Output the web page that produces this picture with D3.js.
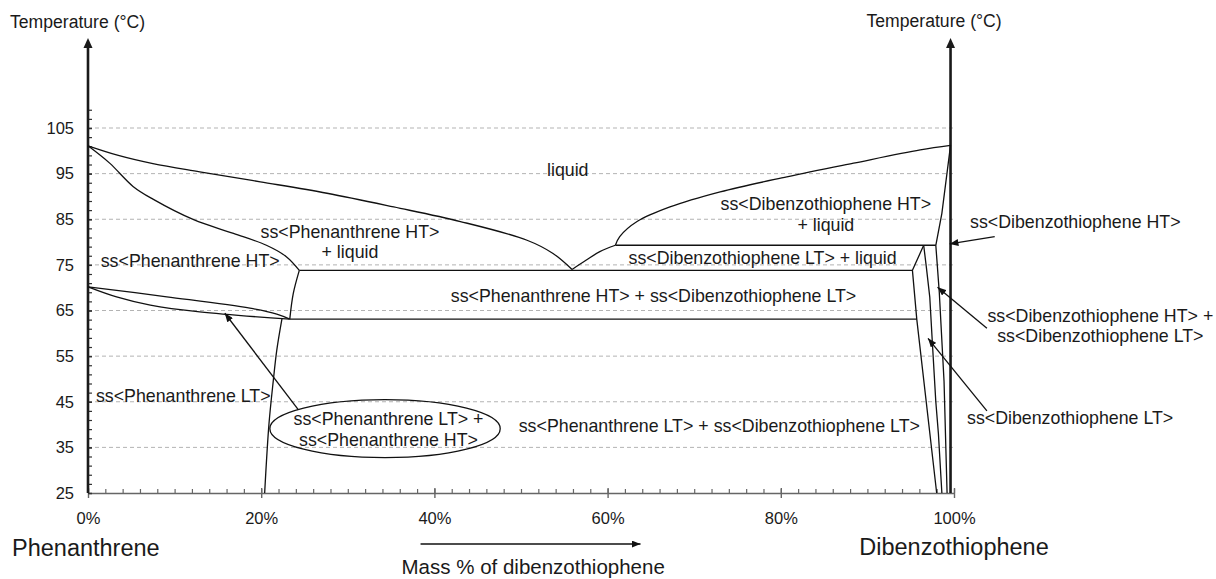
<!DOCTYPE html>
<html><head><meta charset="utf-8">
<script src="https://cdn.jsdelivr.net/npm/d3@7"></script>
<style>
html,body{margin:0;padding:0;background:#fff;}
svg text{font-family:Arial,"Liberation Sans",Helvetica,sans-serif;fill:#1a1a1a;}
</style></head><body>
<svg id="chart" width="1216" height="579"></svg>
<script>
// ---------- data ----------
const xTickValues = [0, 20, 40, 60, 80, 100];
const xTickLabels = ["0%", "20%", "40%", "60%", "80%", "100%"];
const yTickValues = [25, 35, 45, 55, 65, 75, 85, 95, 105];
const yTickLabels = ["25", "35", "45", "55", "65", "75", "85", "95", "105"];
const gridValues = [35, 45, 55, 65, 75, 85, 95, 105];

// phase boundaries: [mass % dibenzothiophene, temperature °C]
const liquidusPhenanthrene = [[0,101.1],[3.5,99.0],[7.5,97.2],[12.9,95.4],[19.9,93.2],[27.6,90.7],[35.3,87.7],[43.0,84.5],[50.7,80.4],[53.7,77.5],[55.9,74.0]];
const solidusPhenanthreneHT = [[0,101.1],[2.5,97.3],[5.2,92.2],[7.5,89.4],[12.2,84.9],[16.8,81.9],[20.6,79.3],[22.9,76.8],[24.4,73.8]];
const boundaryPhenanthreneHT = [[24.4,73.8],[23.7,68.7],[23.3,63.1]];
const transitionUpper = [[0,70.2],[9.1,68.0],[18.7,65.5],[21.8,64.2],[23.3,63.1]];
const transitionLower = [[0,70.2],[3.3,68.0],[7.2,66.2],[12.9,64.7],[23.3,63.1]];
const boundaryPhenanthreneLT = [[22.4,63.2],[21.8,56.3],[21.4,49.7],[20.9,40.2],[20.4,25]];
const liquidusDbtLT = [[55.9,74.0],[57.5,76.0],[59.1,77.9],[60.9,79.3]];
const liquidusDbtHT = [[60.9,79.3],[61.4,81.2],[63.4,84.5],[67.2,87.7],[73.0,91.0],[80.7,94.3],[88.4,97.3],[96.1,100.2],[99.6,101.2]];
const eutecticLine = [[24.4,73.8],[95.2,73.8]];
const transitionLine = [[23.3,63.1],[95.7,63.1]];
const peritecticLine = [[60.9,79.3],[97.9,79.3]];
const solidusDbtLT = [[96.5,79.3],[95.2,73.8],[95.7,63.1],[98.0,25]];
const boundaryDbtLT = [[96.5,79.3],[96.8,74.6],[97.2,68.0],[97.5,58.0],[97.9,45.0],[98.2,38.0],[98.6,25]];
const boundaryDbtHT = [[99.6,101.2],[98.6,86.3],[97.9,79.3],[98.3,69.0],[98.85,49.5],[99.2,25]];

// region labels: text lines, anchor at [mass %, °C]
const labelTexts = [
  ["liquid"],
  ["ss<Phenanthrene HT>", "+ liquid"],
  ["ss<Phenanthrene HT>"],
  ["ss<Phenanthrene HT> + ss<Dibenzothiophene LT>"],
  ["ss<Dibenzothiophene LT> + liquid"],
  ["ss<Dibenzothiophene HT>", "+ liquid"],
  ["ss<Phenanthrene LT>"],
  ["ss<Phenanthrene LT> + ss<Dibenzothiophene LT>"],
  ["ss<Phenanthrene LT> +", "ss<Phenanthrene HT>"],
  ["ss<Dibenzothiophene HT>"],
  ["ss<Dibenzothiophene HT> +", "ss<Dibenzothiophene LT>"],
  ["ss<Dibenzothiophene LT>"]
];
const labelAnchors = [[55.4,94.5],[30.25,81.0],[11.8,74.6],[65.3,66.9],[77.9,75.2],[85.2,87.0],[11.0,45.0],[72.9,38.4],[34.7,39.9],[101.85,83.0],[116.9,62.55],[101.5,40.1]];
const labelAlign = ["middle","middle","middle","middle","middle","middle","middle","middle","middle","start","middle","start"];

// annotation arrows: [from, to] in [mass %, °C]
const arrowLines = [
  [[24.3,43.2],[15.8,64.4]],
  [[104.7,81.2],[99.5,79.6]],
  [[103.8,61.1],[98.1,70.1]],
  [[103.8,43.0],[97.0,58.9]]
];
const ellipseCenter = [34.3, 39.1];
const ellipseRadii = [13.3, 6.35];

// ---------- drawing ----------
const svg = d3.select("#chart");
const x = d3.scaleLinear().domain([0, 100]).range([88, 954]);
const y = d3.scaleLinear().domain([25, 105]).range([493, 128]);
const rightAxisValue = 99.6;

const defs = svg.append("defs");
defs.append("marker").attr("id","ah").attr("viewBox","0 0 10 8").attr("refX",10).attr("refY",4)
  .attr("markerWidth",9).attr("markerHeight",7).attr("markerUnits","userSpaceOnUse").attr("orient","auto")
  .append("path").attr("d","M0,0L10,4L0,8Z").attr("fill","#111");

// gridlines
svg.append("g").selectAll("line").data(gridValues).join("line")
  .attr("x1", x(0)).attr("x2", x(100)).attr("y1", d => y(d)).attr("y2", d => y(d))
  .attr("stroke", "#b3b3b3").attr("stroke-width", 1).attr("stroke-dasharray", "4,3");

// x axis minor ticks
const gxMinor = svg.append("g").attr("transform", `translate(0,${y(25)})`)
  .call(d3.axisBottom(x).tickValues(d3.range(0, 101, 2)).tickSize(-4).tickSizeOuter(0).tickFormat(""));
gxMinor.selectAll("line").attr("stroke", "#666").attr("stroke-width", 1.2);
gxMinor.select(".domain").attr("stroke", "#666").attr("stroke-width", 1.6);

// x axis major ticks + labels
const gx = svg.append("g").attr("transform", `translate(0,${y(25)})`)
  .call(d3.axisBottom(x).tickValues(xTickValues).tickSize(5).tickSizeOuter(0).tickPadding(14)
    .tickFormat((d, i) => xTickLabels[i]));
gx.select(".domain").remove();
gx.selectAll("line").attr("y1", -5).attr("stroke", "#666").attr("stroke-width", 1.4);
gx.selectAll("text").style("font-size", "16.5px").attr("fill", "#1a1a1a");

// y axis minor ticks
const gyMinor = svg.append("g").attr("transform", `translate(${x(0)},0)`)
  .call(d3.axisLeft(y.copy().domain([25, 109]).range([y(25), y(109)])).tickValues(d3.range(25, 110, 2)).tickSize(-4).tickSizeOuter(0).tickFormat(""));
gyMinor.select(".domain").remove();
gyMinor.selectAll("line").attr("stroke", "#333").attr("stroke-width", 1.2);

// y axis major ticks + labels
const gy = svg.append("g").attr("transform", `translate(${x(0)},0)`)
  .call(d3.axisLeft(y).tickValues(yTickValues).tickSize(6).tickSizeOuter(0).tickPadding(8)
    .tickFormat((d, i) => yTickLabels[i]));
gy.select(".domain").remove();
gy.selectAll("line").attr("x2", 4).attr("stroke", "#333").attr("stroke-width", 1.4);
gy.selectAll("text").style("font-size", "16.5px").attr("fill", "#1a1a1a");

// vertical axis lines with arrows
const axisTop = y(105) - 90;
[x(0), x(rightAxisValue)].forEach(px => {
  svg.append("line").attr("x1", px).attr("x2", px).attr("y1", y(25)).attr("y2", axisTop + 6)
    .attr("stroke", "#1a1a1a").attr("stroke-width", 2.6);
  svg.append("path").attr("d", `M${px},${axisTop}L${px - 4.5},${axisTop + 10}L${px + 4.5},${axisTop + 10}Z`)
    .attr("fill", "#1a1a1a");
});

// phase boundary curves
const smooth = d3.line().x(d => x(d[0])).y(d => y(d[1])).curve(d3.curveCatmullRom.alpha(0.5));
const straight = d3.line().x(d => x(d[0])).y(d => y(d[1]));
const curveGroup = svg.append("g").attr("fill", "none").attr("stroke", "#111").attr("stroke-width", 1.3).attr("stroke-linejoin", "round");
[liquidusPhenanthrene, solidusPhenanthreneHT, boundaryPhenanthreneHT, transitionUpper, transitionLower,
 boundaryPhenanthreneLT, liquidusDbtLT, liquidusDbtHT].forEach(d => curveGroup.append("path").attr("d", smooth(d)));
[eutecticLine, transitionLine, peritecticLine, solidusDbtLT, boundaryDbtLT, boundaryDbtHT]
  .forEach(d => curveGroup.append("path").attr("d", straight(d)));

// ellipse
svg.append("ellipse").attr("cx", x(ellipseCenter[0])).attr("cy", y(ellipseCenter[1]))
  .attr("rx", x(ellipseCenter[0] + ellipseRadii[0]) - x(ellipseCenter[0]))
  .attr("ry", y(ellipseCenter[1] - ellipseRadii[1]) - y(ellipseCenter[1]))
  .attr("fill", "none").attr("stroke", "#111").attr("stroke-width", 1.3);

// arrows
svg.append("g").selectAll("line").data(arrowLines).join("line")
  .attr("x1", d => x(d[0][0])).attr("y1", d => y(d[0][1]))
  .attr("x2", d => x(d[1][0])).attr("y2", d => y(d[1][1]))
  .attr("stroke", "#111").attr("stroke-width", 1.3).attr("marker-end", "url(#ah)");

// region labels
labelTexts.forEach((lines, i) => {
  const t = svg.append("text").attr("text-anchor", labelAlign[i]).style("font-size", "17.8px");
  lines.forEach((s, j) => {
    t.append("tspan").attr("x", x(labelAnchors[i][0])).attr("y", y(labelAnchors[i][1]) + j * 20.5).text(s);
  });
});

// axis titles
svg.append("text").attr("x", x(0) - 78).attr("y", 28).style("font-size", "17.6px").text("Temperature (°C)");
svg.append("text").attr("x", x(rightAxisValue) - 84).attr("y", 27).style("font-size", "17.6px").text("Temperature (°C)");
svg.append("text").attr("x", x(0) - 76).attr("y", y(25) + 63).style("font-size", "23.5px").text("Phenanthrene");
svg.append("text").attr("x", x(100)).attr("y", y(25) + 62).attr("text-anchor", "middle").style("font-size", "23.5px").text("Dibenzothiophene");
svg.append("text").attr("x", x(38.4) - 19).attr("y", y(25) + 81).style("font-size", "20.5px").text("Mass % of dibenzothiophene");
svg.append("line").attr("x1", x(38.4)).attr("x2", x(63.8)).attr("y1", y(25) + 51).attr("y2", y(25) + 51)
  .attr("stroke", "#111").attr("stroke-width", 1.3).attr("marker-end", "url(#ah)");
</script>
</body></html>
